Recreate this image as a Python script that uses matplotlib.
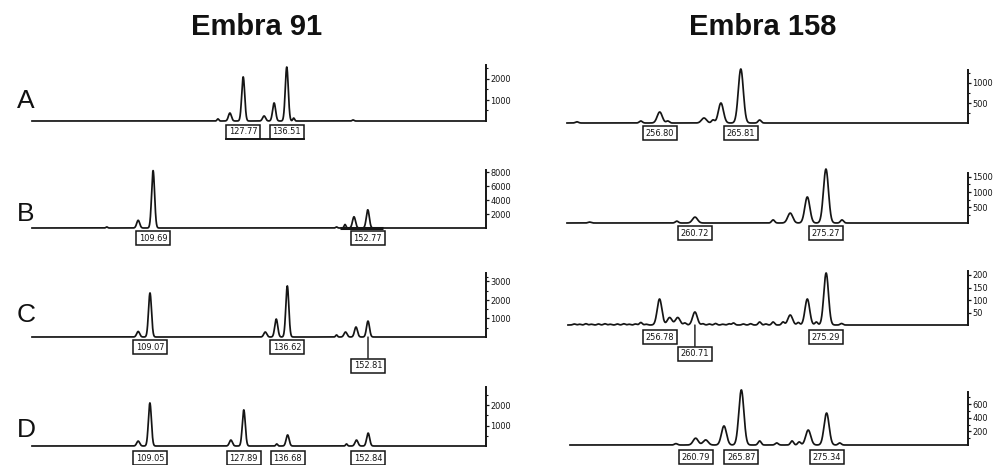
import numpy as np
import matplotlib
matplotlib.use("Agg")
import matplotlib.pyplot as plt
from matplotlib import font_manager, transforms
from matplotlib.font_manager import FontProperties
from matplotlib.lines import Line2D

# ---------------- peak tables (size in bp, height in RFU) ----------------
# Embra 91
a91_pos = [122.7, 125.1, 127.77, 131.96, 133.97, 136.51, 137.9, 149.8]
a91_hgt = [100, 380, 2100, 240, 860, 2570, 140, 50]
a91_labels = ["127.77", "136.51"]

b91_pos = [100.4, 106.7, 109.69, 146.5, 148.2, 150.0, 152.77]
b91_hgt = [150, 1100, 8200, 150, 500, 1600, 2600]
b91_labels = ["109.69", "152.77"]

c91_pos = [106.7, 109.07, 132.2, 134.4, 136.62, 146.5, 148.3, 150.4, 152.81]
c91_hgt = [300, 2380, 270, 970, 2760, 110, 270, 540, 860]
c91_labels = ["109.07", "136.62", "152.81"]

d91_pos = [106.7, 109.05, 125.3, 127.89, 134.5, 136.68, 148.5, 150.5, 152.84]
d91_hgt = [240, 2100, 290, 1760, 100, 540, 100, 290, 630]
d91_labels = ["109.05", "127.89", "136.68", "152.84"]

# Embra 158
a158_pos = [247.6, 254.7, 256.80, 257.7, 261.72, 262.72, 263.6, 265.81, 267.9]
a158_hgt = [30, 50, 275, 50, 125, 75, 500, 1350, 75]
a158_labels = ["256.80", "265.81"]

b158_pos = [249.0, 258.7, 260.72, 269.4, 271.3, 273.2, 275.27, 277.05]
b158_hgt = [30, 60, 190, 100, 320, 840, 1740, 100]
b158_labels = ["260.72", "275.27"]

c158_pos = [247.3, 247.9, 248.6, 249.2, 250.0, 250.7, 251.3, 252.1, 252.8,
            253.4, 254.1, 254.7, 255.3, 256.78, 257.9, 258.8, 259.6, 260.71,
            261.6, 262.3, 263.0, 263.8, 264.5, 265.0, 266.1, 266.9, 267.9,
            268.6, 269.4, 270.5, 271.3, 272.2, 273.2, 274.2, 275.29, 277.0]
c158_hgt = [4, 3, 5, 3, 4, 5, 3, 4, 5,
            3, 4, 10, 3, 104, 30, 30, 8, 52,
            5, 4, 6, 3, 5, 8, 4, 5, 12,
            4, 12, 12, 40, 10, 104, 12, 208, 6]
c158_labels = ["256.78", "260.71", "275.29"]

d158_pos = [258.6, 260.79, 261.9, 263.94, 265.87, 267.9, 269.8, 271.5, 272.3,
            273.3, 275.34, 276.8]
d158_hgt = [20, 100, 75, 280, 810, 60, 30, 60, 45, 220, 470, 30]
d158_labels = ["260.79", "265.87", "275.34"]

# ---------------- fonts ----------------
W, H = 994, 465
fig = plt.figure(figsize=(W / 100, H / 100), dpi=100)

ttf = font_manager.fontManager.ttflist
names = {f.name for f in ttf}
SANS = "Liberation Sans" if "Liberation Sans" in names else "DejaVu Sans"


def pick_narrow():
    """A narrow upright regular face for the small numerals, if one exists."""
    prefs = ["Liberation Sans Narrow", "DejaVu Sans", "Roboto Condensed",
             "Open Sans", "Noto Sans", "Roboto"]
    cands = []
    for f in ttf:
        narrow = ("Narrow" in f.name or "Condensed" in f.name
                  or f.stretch in ("condensed", "semi-condensed"))
        w = f.weight if isinstance(f.weight, int) else 400
        if narrow and f.style == "normal" and 350 <= w <= 450:
            rank = prefs.index(f.name) if f.name in prefs else len(prefs)
            cands.append((rank, f.fname))
    if cands:
        cands.sort()
        return cands[0][1]
    return None


narrow_file = pick_narrow()
if narrow_file:
    NSIZE = 6.6
    def nprop(size=NSIZE):
        return FontProperties(fname=narrow_file, size=size)
else:
    NSIZE = 5.6
    def nprop(size=NSIZE):
        return FontProperties(family="DejaVu Sans", size=size)

# ---------------- layout (figure pixels) ----------------
# pixel position of a size in each column (linear size scale of the run)
col_ref = {0: (150.0, 109.07, 4.984), 1: (695.0, 260.72, 9.0)}


def bp_at(col, px):
    p0, b0, s = col_ref[col]
    return b0 + (px - p0) / s


panels = [
    dict(col=0, pos=a91_pos, hgt=a91_hgt, lab=a91_labels, drop=[11, 11],
         base=121, top=65, k=0.021, ticks=[1000, 2000], minor=[500, 1500, 2500],
         x0=32, x1=486, sig=0.30),
    dict(col=0, pos=b91_pos, hgt=b91_hgt, lab=b91_labels, drop=[10, 10],
         base=228, top=170, k=0.0070, ticks=[2000, 4000, 6000, 8000], minor=[],
         x0=32, x1=486, sig=0.30),
    dict(col=0, pos=c91_pos, hgt=c91_hgt, lab=c91_labels, drop=[10, 10, 29],
         base=337, top=273, k=0.0185, ticks=[1000, 2000, 3000],
         minor=[500, 1500, 2500, 3250], x0=32, x1=486, sig=0.30),
    dict(col=0, pos=d91_pos, hgt=d91_hgt, lab=d91_labels, drop=[12, 12, 12, 12],
         base=446, top=387, k=0.0205, ticks=[1000, 2000], minor=[500, 1500, 2500],
         x0=32, x1=486, sig=0.30),
    dict(col=1, pos=a158_pos, hgt=a158_hgt, lab=a158_labels, drop=[10, 10],
         base=123, top=70, k=0.040, ticks=[500, 1000], minor=[250, 750, 1250],
         x0=567, x1=968, sig=0.28),
    dict(col=1, pos=b158_pos, hgt=b158_hgt, lab=b158_labels, drop=[10, 10],
         base=223, top=173, k=0.031, ticks=[500, 1000, 1500], minor=[250, 750, 1250],
         x0=567, x1=968, sig=0.28),
    dict(col=1, pos=c158_pos, hgt=c158_hgt, lab=c158_labels, drop=[12, 29, 12],
         base=325, top=271, k=0.25, ticks=[50, 100, 150, 200], minor=[],
         x0=568, x1=968, sig=0.26),
    dict(col=1, pos=d158_pos, hgt=d158_hgt, lab=d158_labels, drop=[12, 12, 12],
         base=445, top=392, k=0.068, ticks=[200, 400, 600], minor=[100, 300, 500, 700],
         x0=570, x1=968, sig=0.28),
]

INK = "#151515"
annots = []

for p in panels:
    k = p["k"]
    pad = 4
    peak_top = p["base"] - max(p["hgt"]) * k
    top_px = min(p["top"], peak_top) - 3
    ax = fig.add_axes([p["x0"] / W, 1 - (p["base"] + pad) / H,
                       (p["x1"] - p["x0"]) / W, (p["base"] + pad - top_px) / H])
    xl0, xl1 = bp_at(p["col"], p["x0"]), bp_at(p["col"], p["x1"])
    ax.set_xlim(xl0, xl1)
    ax.set_ylim(-pad / k, (p["base"] - top_px) / k)
    ax.patch.set_alpha(0)

    # trace: sum of peak profiles
    x = np.linspace(xl0, xl1, 4000)
    y = np.zeros_like(x)
    for mu, h in zip(p["pos"], p["hgt"]):
        s = p["sig"] if h > 0.08 * max(p["hgt"]) else p["sig"] * 0.6
        y += h * np.exp(-0.5 * ((x - mu) / s) ** 2)
    ax.plot(x, y, color=INK, lw=1.25, solid_joinstyle="round", clip_on=False)

    # intensity axis on the right
    for side in ("left", "top", "bottom"):
        ax.spines[side].set_visible(False)
    ax.spines["right"].set_bounds(0, (p["base"] - p["top"]) / k)
    ax.spines["right"].set_linewidth(1.4)
    ax.spines["right"].set_color(INK)
    ax.set_xticks([])
    ax.yaxis.tick_right()
    ax.set_yticks(p["ticks"])
    ax.set_yticklabels([str(t) for t in p["ticks"]])
    ax.set_yticks(p["minor"], minor=True)
    ax.tick_params(axis="y", which="major", direction="out", length=2.5, width=0.9,
                   pad=0.5, colors=INK)
    ax.tick_params(axis="y", which="minor", direction="out", length=1.6, width=0.8,
                   colors=INK)
    for t in ax.get_yticklabels():
        t.set_fontproperties(nprop())

    # size call boxes
    anns = []
    for lab, d in zip(p["lab"], p["drop"]):
        kw = {}
        if d > 20:
            kw["arrowprops"] = dict(arrowstyle="-", lw=1.0, color=INK,
                                    shrinkA=0, shrinkB=0)
        a = ax.annotate(lab, xy=(float(lab), 0), xytext=(0, -d),
                        textcoords="offset pixels", ha="center", va="center",
                        fontproperties=nprop(), color=INK,
                        annotation_clip=False,
                        bbox=dict(boxstyle="square,pad=0.3", fc="white",
                                  ec=INK, lw=1.1), **kw)
        anns.append(a)
    annots.append((ax, anns))

# thicker baseline stretch under the 152.77 cluster
ax_b91 = annots[1][0]
ax_b91.plot([147.2, 155.8], [0, 0], color=INK, lw=2.2, solid_capstyle="butt")

# row letters and column titles
for letter, yb in zip("ABCD", [108, 221, 322, 437]):
    fig.text(26 / W, 1 - yb / H, letter, ha="center", va="baseline",
             fontsize=19, family=SANS, color="#111111")
fig.text(257 / W, 1 - 35 / H, "Embra 91", ha="center", va="baseline",
         fontsize=21, fontweight="bold", family=SANS, color="#111111")
fig.text(763 / W, 1 - 35 / H, "Embra 158", ha="center", va="baseline",
         fontsize=21, fontweight="bold", family=SANS, color="#111111")

# bin bar joining the two allele boxes of the first Embra 91 trace
fig.canvas.draw()
r = fig.canvas.get_renderer()
b1 = annots[0][1][0].get_bbox_patch().get_window_extent(r)
b2 = annots[0][1][1].get_bbox_patch().get_window_extent(r)
fig.add_artist(Line2D([b1.x0, b2.x1], [b1.y0, b1.y0], color=INK, lw=1.3,
                      transform=transforms.IdentityTransform()))

fig.savefig("out.png", dpi=100, facecolor="white")
